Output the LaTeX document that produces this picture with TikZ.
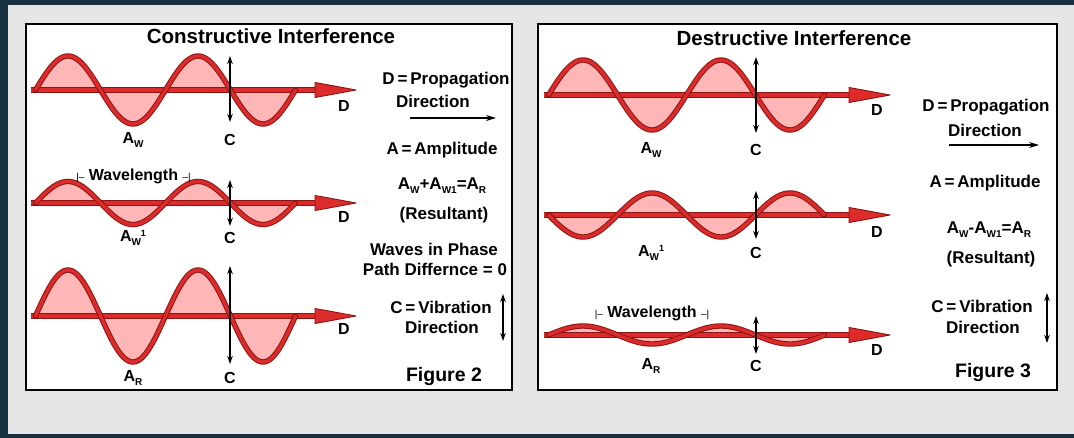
\documentclass[tikz,border=0pt]{standalone}
\usepackage{fontspec}
\setmainfont{Liberation Sans}
\usetikzlibrary{arrows.meta}
\definecolor{bgray}{HTML}{E6E6E6}
\definecolor{framecol}{HTML}{18303F}
\definecolor{wred}{HTML}{DC2B2B}
\definecolor{wdark}{HTML}{8E1414}
\definecolor{wpink}{HTML}{FFB6B6}
\newcommand{\mysub}[1]{\raisebox{-0.45ex}{\fontsize{10}{10}\selectfont #1}}
\newcommand{\mysup}[1]{\raisebox{0.6ex}{\fontsize{9}{9}\selectfont #1}}
\newcommand{\waverow}[6]{%
  \fill[wavefill] (#1,#2) -- plot[domain=0:2*#4,samples=160] ({#1+\x},{#2-(#3)*sin(\x/#4*360)}) -- cycle;
  \draw[axout] (#5,#2) -- ({#6-36},#2);
  \draw[axin] (#5,#2) -- ({#6-36},#2);
  \draw[waveout] plot[domain=0:2*#4,samples=160] ({#1+\x},{#2-(#3)*sin(\x/#4*360)});
  \draw[wavein] plot[domain=0:2*#4,samples=160] ({#1+\x},{#2-(#3)*sin(\x/#4*360)});
  \filldraw[fill=wred,draw=wdark,line width=0.9pt,line join=round]
    ({#6-41},{#2-7.5}) -- ({#6-27},{#2-5}) -- (#6,#2) -- ({#6-27},{#2+5}) -- ({#6-41},{#2+7.5}) -- cycle;
}
\tikzset{
  wavefill/.style={fill=wpink},
  waveout/.style={draw=wdark,line width=5.4pt,line join=round,line cap=round},
  wavein/.style={draw=wred,line width=3.4pt,line join=round,line cap=round},
  axout/.style={draw=wdark,line width=6.6pt},
  axin/.style={draw=wred,line width=4.6pt},
  vib/.style={draw=black,line width=1.4pt,{Stealth[length=8pt,width=5.5pt]}-{Stealth[length=8pt,width=5.5pt]}},
  prop/.style={draw=black,line width=1.3pt,-{Stealth[length=10pt,width=6pt]}},
  lab/.style={font=\fontsize{16}{16}\selectfont\bfseries,inner sep=0pt},
  side/.style={font=\fontsize{17}{19}\selectfont\bfseries,inner sep=0pt,align=center},
  ttl/.style={font=\fontsize{20.5}{20.5}\selectfont\bfseries,inner sep=0pt},
  figl/.style={font=\fontsize{19.5}{19.5}\selectfont\bfseries,inner sep=0pt},
  wl/.style={font=\fontsize{16}{16}\selectfont\bfseries,inner sep=0pt},
  panel/.style={fill=white,draw=black,line width=1.6pt},
}
\begin{document}
\begin{tikzpicture}[x=1pt,y=-1pt]
\useasboundingbox (0,0) rectangle (1074,438);
\fill[bgray] (0,0) rectangle (1074,438);
\fill[framecol] (0,0) rectangle (1074,5);
\fill[framecol] (0,0) rectangle (8,438);
\fill[framecol] (0,434) rectangle (1074,438);
% panels
\draw[panel] (26,24) rectangle (512,390);
\draw[panel] (538,24) rectangle (1057,390);

% ---------- left panel ----------
\node[ttl] (t1) at (271,36) {Constructive Interference};
\waverow{35.5}{90}{34}{130}{31}{356}
\waverow{35.5}{203}{21.5}{130}{31}{356}
\waverow{35.5}{316}{46}{130}{31}{356}
\coordinate (c1a) at (230,56); \coordinate (c1b) at (230,122);
\coordinate (c2a) at (230,180); \coordinate (c2b) at (230,226);
\coordinate (c3a) at (230,266); \coordinate (c3b) at (230,364);
\draw[vib] (c1a) -- (c1b);
\draw[vib] (c2a) -- (c2b);
\draw[vib] (c3a) -- (c3b);
\node[lab] (d1) at (344,106) {D};
\node[lab] (d2) at (344,217) {D};
\node[lab] (d3) at (344,329) {D};
\node[lab] (a1) at (133,140) {A\mysub{W}};
\node[lab] (a2) at (133,238) {A\mysub{W}\mysup{1}};
\node[lab] (a3) at (133,378) {A\mysub{R}};
\node[lab] (cc1) at (230,140) {C};
\node[lab] (cc2) at (230,238) {C};
\node[lab] (cc3) at (230,378) {C};
\node[wl] (wl1) at (133.5,176) {{\fontsize{10}{10}\selectfont\mdseries |–} Wavelength {\fontsize{10}{10}\selectfont\mdseries –|}};
\node[side] (s1) at (446,80) {D\,=\,Propagation};
\node[side] (s2) at (433,101) {Direction};
\coordinate (p1a) at (410,118); \coordinate (p1b) at (496,118);
\draw[prop] (p1a) -- (p1b);
\node[side] (s3) at (442,150) {A\,=\,Amplitude};
\node[side] (s4) at (442,186) {A\mysub{W}+A\mysub{W1}=A\mysub{R}};
\node[side] (s5) at (444,215) {(Resultant)};
\node[side] (s6) at (434,249) {Waves in Phase};
\node[side] (s7) at (435,269) {Path Differnce = 0};
\node[side] (s8) at (441,307) {C\,=\,Vibration};
\node[side] (s9) at (442,327) {Direction};
\coordinate (v1a) at (503,294); \coordinate (v1b) at (503,341);
\draw[vib] (v1a) -- (v1b);
\node[figl] (f2) at (444,377) {Figure 2};

% ---------- right panel ----------
\node[ttl] (t2) at (794,38) {Destructive Interference};
\waverow{548.5}{95}{35}{138}{544}{890}
\waverow{548.5}{215}{-22}{138}{544}{890}
\waverow{548.5}{335}{9}{138}{544}{890}
\coordinate (e1a) at (756,57); \coordinate (e1b) at (756,133);
\coordinate (e2a) at (756,191); \coordinate (e2b) at (756,239);
\coordinate (e3a) at (756,316); \coordinate (e3b) at (756,354);
\draw[vib] (e1a) -- (e1b);
\draw[vib] (e2a) -- (e2b);
\draw[vib] (e3a) -- (e3b);
\node[lab] (rd1) at (877,110) {D};
\node[lab] (rd2) at (877,232) {D};
\node[lab] (rd3) at (877,350) {D};
\node[lab] (ra1) at (651,150) {A\mysub{W}};
\node[lab] (ra2) at (651,253) {A\mysub{W}\mysup{1}};
\node[lab] (ra3) at (651,366) {A\mysub{R}};
\node[lab] (rc1) at (756,150) {C};
\node[lab] (rc2) at (756,253) {C};
\node[lab] (rc3) at (756,366) {C};
\node[wl] (wl2) at (652,313) {{\fontsize{10}{10}\selectfont\mdseries |–} Wavelength {\fontsize{10}{10}\selectfont\mdseries –|}};
\node[side] (r1) at (986,107) {D\,=\,Propagation};
\node[side] (r2) at (985,130) {Direction};
\coordinate (p2a) at (949,145); \coordinate (p2b) at (1039,145);
\draw[prop] (p2a) -- (p2b);
\node[side] (r3) at (985,183) {A\,=\,Amplitude};
\node[side] (r4) at (989,230) {A\mysub{W}-A\mysub{W1}=A\mysub{R}};
\node[side] (r5) at (991,259) {(Resultant)};
\node[side] (r6) at (982,306) {C\,=\,Vibration};
\node[side] (r7) at (983,327) {Direction};
\coordinate (v2a) at (1047,293); \coordinate (v2b) at (1047,343);
\draw[vib] (v2a) -- (v2b);
\node[figl] (f3) at (993,373) {Figure 3};
\end{tikzpicture}
\end{document}
